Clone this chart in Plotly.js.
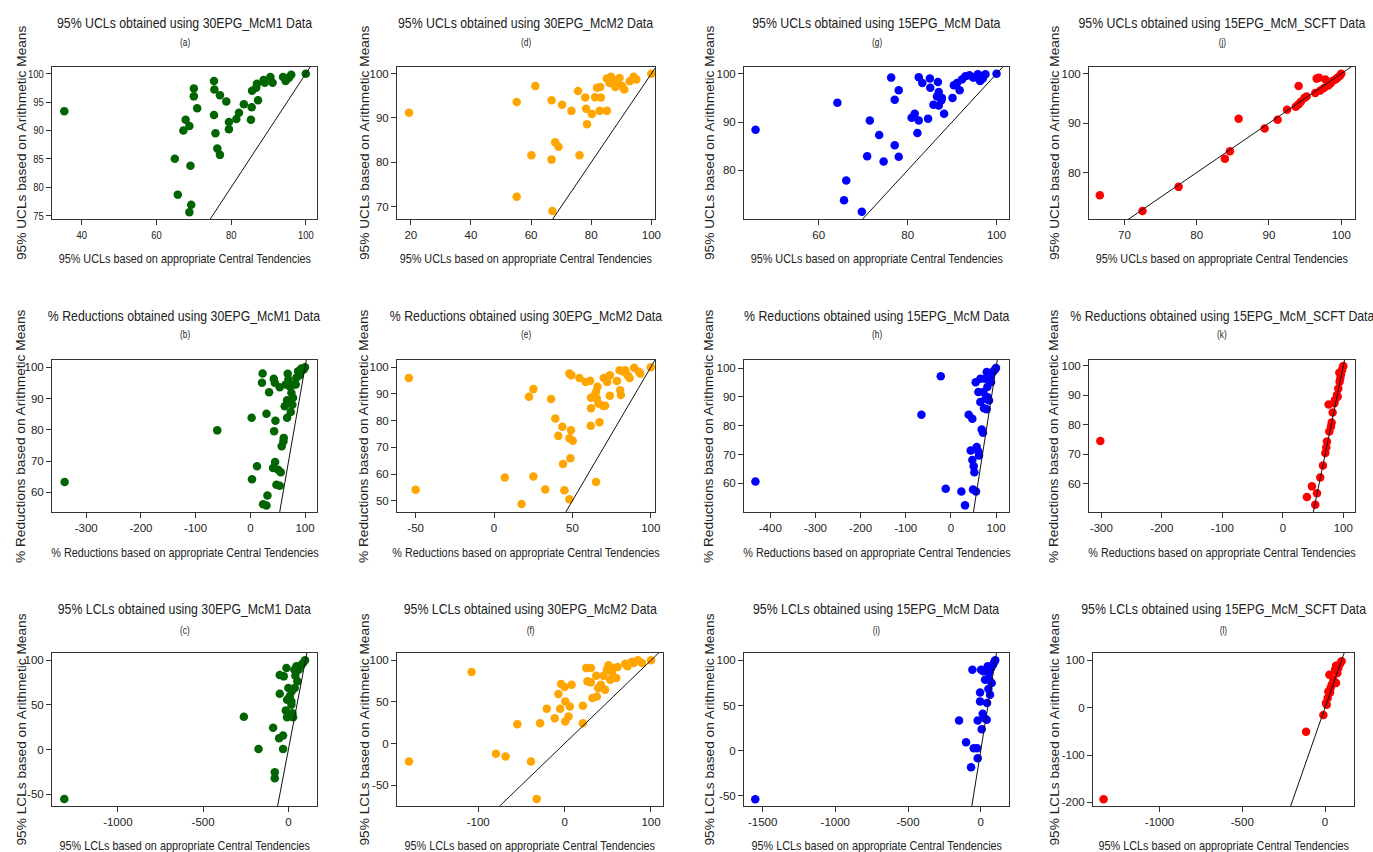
<!DOCTYPE html>
<html><head><meta charset="utf-8">
<script src="https://cdn.plot.ly/plotly-3.0.1.min.js"></script>
<style>html,body{margin:0;padding:0;background:#fff}#chart{width:1373px;height:852px}</style>
</head><body><div id="chart"></div>
<script>
// ---------- DATA (x: based on appropriate central tendencies, y: based on arithmetic means) ----------
// (a) 95% UCLs, 30EPG_McM1
const a_x=[35.3,64.9,65.7,68.8,69.3,69.1,68.8,67.2,67.8,70.0,70.0,70.9,75.4,75.5,77.0,75.4,75.8,76.3,77.0,78.7,79.4,79.4,81.4,82.1,83.4,85.3,85.5,85.6,86.7,86.9,87.2,88.7,89.0,90.5,91.1,93.9,94.6,95.5,96.1,100];
const a_y=[93.4,85.0,78.7,75.6,76.9,83.8,90.8,90.0,91.9,97.4,96.0,93.9,98.7,97.2,96.2,92.7,89.5,86.8,85.7,95.1,91.5,90.2,92.0,93.1,94.6,91.9,94.1,97.0,97.5,98.2,95.3,98.9,98.4,99.4,98.4,99.4,98.7,99.3,99.8,100];
// (d) 95% UCLs, 30EPG_McM2
const d_x=[19.4,55.2,55.2,61.4,60.1,66.8,66.8,67.1,68.0,69.1,70.3,73.4,75.6,76.1,78.0,78.3,78.6,80.2,81.3,81.9,83.0,83.2,82.8,85.2,85.2,86.1,86.6,88.0,88.6,89.4,90.2,91.0,92.8,94.1,95.0,100];
const d_y=[91.2,93.6,72.2,97.2,81.6,94.0,80.6,69.0,84.5,83.5,93.0,91.6,96.1,81.6,94.6,92.1,88.6,90.9,94.7,96.8,97.0,94.6,91.6,91.6,98.9,97.9,99.3,97.0,98.3,99.0,97.2,96.4,98.3,99.3,98.7,100];
// (g) 95% UCLs, 15EPG_McM
const g_x=[45.8,64.2,65.7,66.2,69.7,70.9,71.5,73.6,74.6,76.3,77.1,77.1,78.0,78.0,80.9,81.6,82.5,82.2,82.5,83.3,84.6,85.0,85.1,85.8,86.6,86.8,87.0,87.0,87.6,87.7,88.2,90.1,90.4,91.1,91.7,92.2,93.0,93.9,94.8,95.8,96.3,96.9,97.5,100];
const g_y=[88.4,94.0,73.8,77.9,71.4,82.9,90.3,87.3,81.8,99.2,94.6,85.2,96.6,82.8,90.9,91.7,90.3,87.7,99.3,98.1,90.7,99.0,97.1,93.6,95.3,98.3,96.2,93.4,94.5,95.0,91.7,95.0,97.6,98.1,96.6,98.8,99.5,99.7,99.2,99.9,98.5,99.0,99.9,100];
// (j) 95% UCLs, 15EPG_McM_SCFT
const j_x=[66.6,72.5,77.5,83.9,84.6,85.8,89.4,91.2,92.5,93.7,94.1,94.1,94.4,94.9,95.2,96.4,96.6,96.9,97.1,97.6,97.8,98.2,98.5,98.8,99.2,99.5,99.8,100];
const j_y=[75.4,72.2,77.1,82.8,84.3,90.9,88.9,90.7,92.7,93.3,93.8,97.5,94.3,95.1,95.4,96.1,99.0,99.2,96.6,97.1,98.8,97.6,98.0,98.5,98.8,99.2,99.6,100];
// (b) % Reductions, 30EPG_McM1
const b_x=[-339.5,-60.5,2.4,3.0,12.2,22.5,21.3,23.4,29.5,29.5,31.3,34.3,42.9,43.5,44.7,45.9,45.3,41.6,47.7,53.8,50.8,55.6,57.4,61.1,60.5,53.8,64.7,62.9,67.2,68.4,69.6,72.0,69.6,67.2,73.9,75.1,78.1,80.0,76.9,84.3,87.4,90.4,93.4,97.6,100,83.0];
const b_y=[63.3,79.8,83.8,64.2,68.3,98.0,95.0,56.2,55.8,85.1,59.0,92.0,96.3,79.5,95.0,82.9,69.7,67.8,62.4,62.1,67.2,66.4,74.7,77.4,76.3,93.6,94.5,87.5,89.4,97.9,96.1,93.9,88.6,83.8,85.7,91.8,90.2,94.5,88.0,96.6,98.7,97.4,99.6,99.3,100,94.5];
// (e) % Reductions, 30EPG_McM2
const e_x=[-54.3,-50,6.9,17.6,22.3,25.1,25.1,32.7,36.4,39.1,41.0,43.6,44.0,44.9,48.1,49.4,48.1,49.1,48.7,48.1,54.5,50.2,58.5,61.3,61.9,61.9,61.7,65.1,65.6,66.0,66.6,67.3,69.4,70.9,70.0,72.2,73.9,73.9,78.4,80.1,80.5,80.9,82.6,85.2,86.5,89.4,92.4,93.3,100,83.7,64.2,65.1];
const e_y=[96.0,54.1,58.7,48.8,88.9,91.8,59.1,54.2,88.1,80.8,74.3,77.7,63.8,53.9,97.6,97.0,73.4,76.4,65.9,50.6,96.0,72.5,94.5,94.9,88.6,84.6,78.1,90.8,88.3,92.7,86.4,79.4,85.6,85.6,96.0,94.5,97.0,89.3,94.8,98.9,91.4,89.6,98.3,97.0,96.0,99.8,98.3,97.6,100,98.9,89.5,57.0];
// (h) % Reductions, 15EPG_McM
const h_x=[-433,-65.2,-22.4,-11.4,23.3,31.4,39.5,47.6,44.0,47.6,50.6,52.1,49.1,55.8,57.2,60.9,62.4,55.0,60.9,65.3,65.3,68.3,71.2,73.5,75.7,79.4,80.8,81.6,79.4,84.5,86.7,89.0,90.4,94.1,97.8,100,72.0,77.1];
const h_y=[60.7,83.8,97.2,58.2,57.2,52.4,83.8,82.4,71.4,68.1,66.0,63.9,57.9,57.2,72.6,71.1,69.7,95.1,91.7,96.3,88.2,78.7,77.6,86.1,96.3,98.6,93.4,89.9,85.7,88.8,96.9,95.1,98.4,98.8,99.5,100,91.7,89.4];
// (k) % Reductions, 15EPG_McM_SCFT
const k_x=[-301.7,39.8,48.1,56.4,53.6,61.9,66.3,70.2,71.8,72.9,76.8,75.7,80.7,82.3,86.2,89.5,91.7,93.9,93.4,96.1,97.8,99.4,100,90.6,85.1,79.6,95.0];
const k_y=[74.5,55.5,59.1,56.8,52.9,62.1,66.2,70.4,72.3,74.3,77.7,86.9,80.8,84.2,88.4,90.1,92.3,94.6,97.7,97.1,98.5,99.7,100,89.5,87.3,79.4,95.9];
// (c) 95% LCLs, 30EPG_McM1
const c_x=[-1313.8,-261.2,-175.4,-89.7,-79.9,-79.9,-54.6,-31.2,-31.2,-50.7,-50.7,-27.3,-11.7,-15.6,-7.8,0,7.8,17.5,23.4,27.3,35.1,40.9,37.0,46.8,52.6,60.4,66.3,76.0,85.8,97.5,17.5,-7.8,19.5];
const c_y=[-55.4,36.7,0.7,24.3,-25.5,-32.2,12.7,15.7,0.7,62.5,83.5,82.0,91.4,43.8,36.3,68.9,59.6,50.2,40.8,36.3,89.5,82.8,68.9,93.3,76.4,89.5,93.3,95.1,97.0,100,53.9,55.8,65.2];
// (f) 95% LCLs, 30EPG_McM2
const f_x=[-180.1,-107.7,-79.5,-68.3,-54.7,-38.9,-32.3,-28.4,-20.7,-11.4,-7.2,-5.2,-4.1,0,0.8,0.8,4.6,6.0,8.1,21.1,21.1,25.0,26.5,30.4,30.4,32.3,36.6,37.3,38.9,42.0,45.1,46.9,48.9,50.9,52.8,54.7,56.7,59.8,61.3,70.2,72.9,77.9,79.9,84.9,89.6,100];
const f_y=[-21.7,85.9,-12.4,-15.7,23.3,-21.7,-66.7,24.5,41.8,30.5,59.4,41.8,71.5,67.9,50.6,26.5,32.5,44.6,70.7,45.4,24.5,90.8,74.7,90.8,73.5,54.6,81.5,56.6,66.7,70.7,81.5,64.7,88.8,94.0,76.7,85.5,90.8,78.7,92.0,96.0,92.8,98.4,96.8,100,96.8,100];
// (i) 95% LCLs, 15EPG_McM
const i_x=[-1550.4,-148.9,-100.8,-66.5,-57.3,-48.2,-25.3,-20.6,-20.6,-4.6,-4.6,2.3,6.9,13.7,25.2,29.8,36.6,41.2,43.5,52.7,57.3,64.1,71.0,75.6,84.7,93.9,100,48.1,18.3,59.6];
const i_y=[-53.7,33.5,9.5,-18.2,89.7,2.8,2.8,-8.2,33.5,64.5,54.6,89.7,23.9,40.9,36.1,78.6,89.7,34.2,52.7,68.2,86.0,62.0,91.5,74.9,95.2,98.5,100,93.4,87.8,78.6];
// (l) 95% LCLs, 15EPG_McM_SCFT
const l_x=[-1338,-114.7,-10.1,10.0,16.1,26.2,20.1,40.2,50.3,30.2,6.0,66.4,66.4,74.4,80.5,90.5,100,60.4,34.2];
const l_y=[-193.6,-51.0,-15.5,6.1,20.3,69.7,34.4,48.5,59.1,32.3,9.7,52.0,88.7,73.2,83.8,92.9,97.9,80.2,41.4];

// tick values
const ticks_a_x=[40,60,80,100], ticks_a_y=[75,80,85,90,95,100];
const ticks_d_x=[20,40,60,80,100], ticks_d_y=[70,80,90,100];
const ticks_g_x=[60,80,100], ticks_g_y=[80,90,100];
const ticks_j_x=[70,80,90,100], ticks_j_y=[80,90,100];
const ticks_b_x=[-300,-200,-100,0,100], ticks_b_y=[60,70,80,90,100];
const ticks_e_x=[-50,0,50,100], ticks_e_y=[50,60,70,80,90,100];
const ticks_h_x=[-400,-300,-200,-100,0,100], ticks_h_y=[60,70,80,90,100];
const ticks_k_x=[-300,-200,-100,0,100], ticks_k_y=[60,70,80,90,100];
const ticks_c_x=[-1000,-500,0], ticks_c_y=[-50,0,50,100];
const ticks_f_x=[-100,0,100], ticks_f_y=[-50,0,50,100];
const ticks_i_x=[-1500,-1000,-500,0], ticks_i_y=[-50,0,50,100];
const ticks_l_x=[-1000,-500,0], ticks_l_y=[-200,-100,0,100];

// labels
const rowX=["95% UCLs based on appropriate Central Tendencies","% Reductions based on appropriate Central Tendencies","95% LCLs based on appropriate Central Tendencies"];
const rowY=["95% UCLs based on Arithmetic Means","% Reductions based on Arithmetic Means","95% LCLs based on Arithmetic Means"];
const rowT=["95% UCLs obtained using ","% Reductions obtained using ","95% LCLs obtained using "];
const colT=["30EPG_McM1 Data","30EPG_McM2 Data","15EPG_McM Data","15EPG_McM_SCFT Data"];
const COLORS=["#006400","#FFA500","#0000FF","#FF0000"];

// ---------- LAYOUT ----------
const W=1373,H=852;
const FONT='"Liberation Sans",Arial,sans-serif';
const TXT='#222';
const SQUEEZE=0.82;   // horizontal texts in the reference are condensed
const rowTitleY=[22,315,608], rowSubY=[42,335,630], rowXTitleY=[258,552,845];
const colYTitleX=[21,364,709,1054];

const panels=[
 {r:0,c:0,sub:'(a)',x:a_x,y:a_y,xt:ticks_a_x,yt:ticks_a_y,box:[52,67,317,219],xr:[32.0,103.0],yr:[74.41,101.17]},
 {r:0,c:1,sub:'(d)',x:d_x,y:d_y,xt:ticks_d_x,yt:ticks_d_y,box:[397,67,655,219],xr:[15.4,101.2],yr:[67.2,101.5]},
 {r:0,c:2,sub:'(g)',x:g_x,y:g_y,xt:ticks_g_x,yt:ticks_g_y,box:[744,67,1009,219],xr:[43.2,102.8],yr:[69.9,101.4]},
 {r:0,c:3,sub:'(j)',x:j_x,y:j_y,xt:ticks_j_x,yt:ticks_j_y,box:[1089,67,1355,219],xr:[65.1,101.9],yr:[70.6,101.35]},
 {r:1,c:0,sub:'(b)',x:b_x,y:b_y,xt:ticks_b_x,yt:ticks_b_y,box:[52,360,317,512],xr:[-362.6,121.9],yr:[53.7,102.3]},
 {r:1,c:1,sub:'(e)',x:e_x,y:e_y,xt:ticks_e_x,yt:ticks_e_y,box:[397,360,655,512],xr:[-61.9,102.7],yr:[45.8,102.7]},
 {r:1,c:2,sub:'(h)',x:h_x,y:h_y,xt:ticks_h_x,yt:ticks_h_y,box:[744,360,1009,512],xr:[-458.3,128.8],yr:[50.1,102.8]},
 {r:1,c:3,sub:'(k)',x:k_x,y:k_y,xt:ticks_k_x,yt:ticks_k_y,box:[1089,360,1355,512],xr:[-320.4,119.3],yr:[50.4,102.0]},
 {r:2,c:0,sub:'(c)',x:c_x,y:c_y,xt:ticks_c_x,yt:ticks_c_y,box:[52,653,317,806],xr:[-1386,167.6],yr:[-63.3,108.2]},
 {r:2,c:1,sub:'(f)',x:f_x,y:f_y,xt:ticks_f_x,yt:ticks_f_y,box:[397,653,663,806],xr:[-194,113.9],yr:[-75.1,108.8]},
 {r:2,c:2,sub:'(i)',x:i_x,y:i_y,xt:ticks_i_x,yt:ticks_i_y,box:[744,653,1009,806],xr:[-1628,194.5],yr:[-61.1,108.1]},
 {r:2,c:3,sub:'(l)',x:l_x,y:l_y,xt:ticks_l_x,yt:ticks_l_y,box:[1093,653,1354,806],xr:[-1402,175],yr:[-207.7,115.5]}
];

const traces=[];
const layout={width:W,height:H,margin:{l:0,r:0,t:0,b:0},paper_bgcolor:'#fff',plot_bgcolor:'#fff',
  showlegend:false,annotations:[],font:{family:FONT,color:TXT}};

function ann(text,px,py,size,angle){
  layout.annotations.push({text:text,xref:'paper',yref:'paper',x:px/W,y:1-py/H,xanchor:'center',yanchor:'middle',
    showarrow:false,textangle:angle||0,font:{family:FONT,size:size,color:TXT}});
}

panels.forEach((p,idx)=>{
  const n=idx+1, sfx=(n>1?n:'');
  const xa='x'+sfx, ya='y'+sfx;
  const [l,t,r,b]=p.box;
  const axBase={showgrid:false,zeroline:false,showline:true,mirror:true,linecolor:'#333',linewidth:1,
    ticks:'outside',ticklen:5,tickwidth:1,tickcolor:'#333',fixedrange:true,
    tickfont:{family:FONT,size:11.5,color:TXT}};
  layout['xaxis'+sfx]=Object.assign({},axBase,{domain:[l/W,r/W],range:p.xr,anchor:ya,
    tickmode:'array',tickvals:p.xt,ticktext:p.xt.map(String)});
  layout['yaxis'+sfx]=Object.assign({},axBase,{domain:[1-b/H,1-t/H],range:p.yr,anchor:xa,
    tickmode:'array',tickvals:p.yt,ticktext:p.yt.map(String)});
  traces.push({type:'scatter',mode:'markers',x:p.x,y:p.y,xaxis:xa,yaxis:ya,
    marker:{color:COLORS[p.c],size:8.5,line:{width:0}},hoverinfo:'x+y'});
  // identity (y = x) reference line, spanning the data extent generously
  const all=p.x.concat(p.y), lo=Math.min(...all), hi=Math.max(...all), s=hi-lo;
  traces.push({type:'scatter',mode:'lines',x:[lo-s,hi+s],y:[lo-s,hi+s],xaxis:xa,yaxis:ya,
    line:{color:'#111',width:1},hoverinfo:'skip'});
  const cx=(l+r)/2, cy=(t+b)/2;
  ann(rowT[p.r]+colT[p.c],cx,rowTitleY[p.r],15);
  ann(p.sub,cx,rowSubY[p.r],10);
  ann(rowX[p.r],cx,rowXTitleY[p.r],13.2);
  ann(rowY[p.r],colYTitleX[p.c],cy,13.7,-90);
});

Plotly.newPlot('chart',traces,layout,{displayModeBar:false,staticPlot:true}).then(gd=>{
  const squeeze=el=>{
    const len=el.getComputedTextLength();
    if(len>0){el.setAttribute('textLength',(len*SQUEEZE).toFixed(2));el.setAttribute('lengthAdjust','spacingAndGlyphs');}
  };
  gd.querySelectorAll('.xtick text, .ytick text').forEach(squeeze);
  gd.querySelectorAll('g.annotation').forEach(g=>{
    const i=+g.getAttribute('data-index');
    if(i%4!==3) g.querySelectorAll('text').forEach(squeeze);
  });
});
</script>
</body></html>
